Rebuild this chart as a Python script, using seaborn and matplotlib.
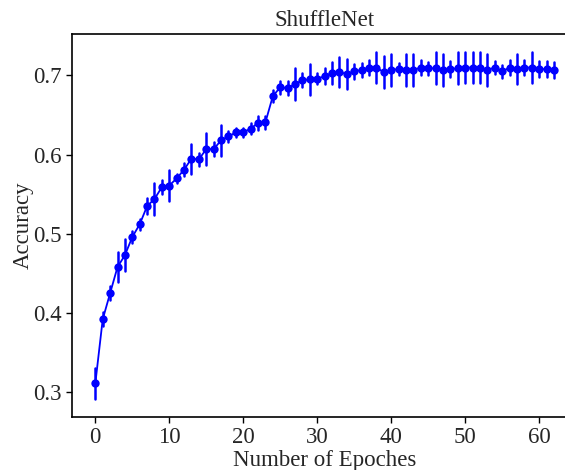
import numpy as np
import pandas as pd
import matplotlib
matplotlib.use('Agg')
import matplotlib.pyplot as plt
import seaborn as sns

# values (mean accuracy and +/- spread per epoch)
epochs = list(range(63))
accuracy = [0.311, 0.392, 0.425, 0.458, 0.473, 0.496, 0.512, 0.535, 0.544, 0.559,
            0.561, 0.570, 0.581, 0.595, 0.594, 0.607, 0.607, 0.618, 0.623, 0.628,
            0.628, 0.633, 0.640, 0.641, 0.674, 0.685, 0.684, 0.689, 0.694, 0.695,
            0.696, 0.699, 0.703, 0.704, 0.702, 0.705, 0.707, 0.710, 0.710, 0.704,
            0.707, 0.708, 0.707, 0.707, 0.710, 0.709, 0.709, 0.707, 0.708, 0.709,
            0.710, 0.710, 0.710, 0.707, 0.710, 0.705, 0.710, 0.708, 0.710, 0.710,
            0.708, 0.708, 0.707]
spread = [0.020, 0.009, 0.009, 0.019, 0.020, 0.007, 0.007, 0.010, 0.020, 0.009,
          0.020, 0.006, 0.008, 0.019, 0.008, 0.020, 0.009, 0.020, 0.007, 0.006,
          0.006, 0.007, 0.009, 0.008, 0.008, 0.008, 0.009, 0.020, 0.009, 0.020,
          0.007, 0.010, 0.014, 0.019, 0.019, 0.010, 0.009, 0.010, 0.020, 0.020,
          0.020, 0.008, 0.020, 0.020, 0.010, 0.008, 0.020, 0.020, 0.010, 0.020,
          0.020, 0.020, 0.020, 0.020, 0.008, 0.008, 0.010, 0.019, 0.010, 0.020,
          0.010, 0.010, 0.010]
x_ticks = [0, 10, 20, 30, 40, 50, 60]
y_ticks = [0.3, 0.4, 0.5, 0.6, 0.7]

# long form: low and high end per epoch, so the mean is the accuracy
# and the min/max gives the error bar
df = pd.DataFrame({
    'epoch': epochs * 2,
    'acc': [a - s for a, s in zip(accuracy, spread)] + [a + s for a, s in zip(accuracy, spread)],
})

sns.set_theme(style='ticks')
plt.rcParams['font.family'] = ['Liberation Serif', 'DejaVu Serif']

fig = plt.figure(figsize=(5.65, 4.7), dpi=100)
ax = fig.add_axes([0.1281, 0.1134, 0.893, 0.8136])  # right edge runs past the figure, as in the reference

sns.lineplot(data=df, x='epoch', y='acc', estimator='mean',
             errorbar=lambda v: (v.min(), v.max()), err_style='bars',
             color='#0000ff', marker='o', markersize=6, markeredgewidth=0,
             linewidth=1.3, err_kws={'linewidth': 1.8}, ax=ax)

ax.set_xticks(x_ticks)
ax.set_yticks(y_ticks)
ax.tick_params(labelsize=16.5, length=4.5, width=1, color='black', pad=3)
for s in ax.spines.values():
    s.set_color('black')
    s.set_linewidth(1.2)
ax.spines['right'].set_visible(False)

ax.set_title('ShuffleNet', fontsize=16.5, pad=6)
ax.set_xlabel('Number of Epoches', fontsize=16.5, labelpad=1)
ax.set_ylabel('Accuracy', fontsize=16.5, labelpad=0)

fig.savefig('out.png', dpi=100)
